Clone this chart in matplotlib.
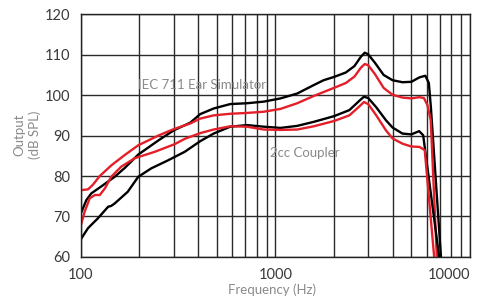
import matplotlib
matplotlib.use('Agg')
import matplotlib.pyplot as plt
import matplotlib.ticker as ticker

plt.rcParams['font.family'] = ['Lato', 'Liberation Sans', 'DejaVu Sans']

# IEC 711 ear simulator, black
iec_blk_f = [100, 106.5, 113, 127, 149, 168, 197, 250, 300, 365, 410, 481, 586, 714, 871, 1062,
             1294, 1575, 1770, 2000, 2300, 2550, 2750, 2880, 3000, 3250, 3600, 4000, 4500, 5000,
             5500, 5900, 6150, 6300, 7100, 7300]
iec_blk_db = [70.8, 74.0, 75.7, 77.4, 79.8, 82.0, 85.3, 88.8, 91.3, 93.2, 95.3, 96.7, 97.8, 98.0, 98.4, 99.2,
              100.4, 102.5, 103.7, 104.5, 105.6, 107.2, 109.5, 110.5, 110.1, 108.0, 105.0, 103.7, 103.2, 103.3,
              104.4, 104.8, 103.0, 97.0, 60.0, 54.0]

# IEC 711 ear simulator, red
iec_red_f = [100, 108.7, 115, 125, 143, 168, 197, 250, 300, 365, 410, 481, 586, 714, 871, 1062,
             1294, 1575, 2000, 2300, 2550, 2750, 2880, 3000, 3250, 3600, 4000, 4500, 5000,
             5500, 5800, 6050, 6290, 6760, 7000]
iec_red_db = [76.5, 76.7, 77.8, 80.0, 82.6, 85.2, 87.6, 90.0, 91.6, 93.0, 94.2, 95.0, 95.4, 95.6, 95.9, 96.6,
              98.0, 99.8, 101.8, 103.0, 104.6, 106.8, 107.7, 107.4, 105.2, 101.8, 100.1, 99.4, 99.2,
              99.5, 99.3, 97.5, 93.8, 60.0, 52.0]

# 2cc coupler, black
cpl_blk_f = [100, 108.7, 122, 138, 143, 149, 174, 197, 230, 281, 342, 410, 481, 586, 714, 871, 1062,
             1294, 1575, 2000, 2400, 2700, 2850, 3000, 3300, 3700, 4000, 4500, 5000, 5480, 5750,
             6950, 7200]
cpl_blk_db = [64.4, 67.1, 69.5, 72.4, 72.6, 73.2, 76.1, 79.8, 81.9, 83.9, 86.0, 88.6, 90.5, 92.2, 92.6, 92.2, 91.9,
              92.4, 93.4, 94.8, 96.3, 98.6, 99.6, 99.3, 97.0, 93.8, 92.0, 90.5, 90.3, 91.1, 90.1,
              60.0, 52.0]

# 2cc coupler, red
cpl_red_f = [100, 104.5, 111, 118, 125, 133, 143, 161, 189, 240, 304, 342, 410, 481, 586, 714, 871, 1062,
             1294, 1575, 2000, 2400, 2700, 2850, 3000, 3300, 3700, 4000, 4500, 5000, 5500, 5860,
             6550, 6800]
cpl_red_db = [67.9, 71.2, 74.5, 75.3, 75.3, 77.0, 79.8, 82.3, 84.4, 86.0, 87.9, 89.2, 90.6, 91.5, 92.3, 92.2, 91.5, 91.4,
              91.5, 92.3, 93.6, 95.0, 97.2, 98.3, 97.8, 95.0, 91.3, 89.3, 88.0, 87.3, 87.2, 86.4,
              60.0, 52.0]

x_ticks = [100, 1000, 10000]
y_ticks = [60, 70, 80, 90, 100, 110, 120]

red = '#e3202a'
grey = '#8a8a8a'

fig = plt.figure(figsize=(4.79, 2.98), dpi=100)
ax = fig.add_axes([0.169, 0.138, 0.812, 0.814])

ax.set_xscale('log')
ax.set_xlim(100, 10000)
ax.set_ylim(60, 120)

ax.xaxis.set_major_locator(ticker.FixedLocator(x_ticks))
ax.xaxis.set_major_formatter(ticker.FixedFormatter([str(t) for t in x_ticks]))
ax.xaxis.set_minor_locator(ticker.LogLocator(base=10, subs=range(2, 10)))
ax.xaxis.set_minor_formatter(ticker.NullFormatter())
ax.set_yticks(y_ticks)

ax.grid(True, which='both', axis='x', color='#2a2a2a', lw=1.0)
ax.grid(True, which='major', axis='y', color='#2a2a2a', lw=1.0)
ax.set_axisbelow(True)
ax.tick_params(which='both', length=0, pad=8, labelsize=10.5, labelcolor='#3a3a3a')
for s in ax.spines.values():
    s.set_color('#222222')
    s.set_linewidth(1.0)

labels = ax.get_xticklabels()
labels[-1].set_horizontalalignment('right')

ax.plot(iec_blk_f, iec_blk_db, color='black', lw=1.7)
ax.plot(iec_red_f, iec_red_db, color=red, lw=1.7)
ax.plot(cpl_blk_f, cpl_blk_db, color='black', lw=1.7)
ax.plot(cpl_red_f, cpl_red_db, color=red, lw=1.7)

ax.text(138 / 479, 1 - 85 / 298, 'IEC 711 Ear Simulator', transform=fig.transFigure,
        fontsize=9.5, color=grey, va='center', ha='left')
ax.text(270 / 479, 1 - 153 / 298, '2cc Coupler', transform=fig.transFigure,
        fontsize=9.5, color=grey, va='center', ha='left')

fig.text(272 / 479, 1 - 290 / 298, 'Frequency (Hz)', fontsize=9.5, color=grey,
         ha='center', va='center')
fig.text(27 / 479, 1 - 135 / 298, 'Output\n(dB SPL)', rotation=90, fontsize=9.5, color=grey,
         ha='center', va='center', linespacing=1.35, multialignment='center')

fig.savefig('out.png', dpi=100)
